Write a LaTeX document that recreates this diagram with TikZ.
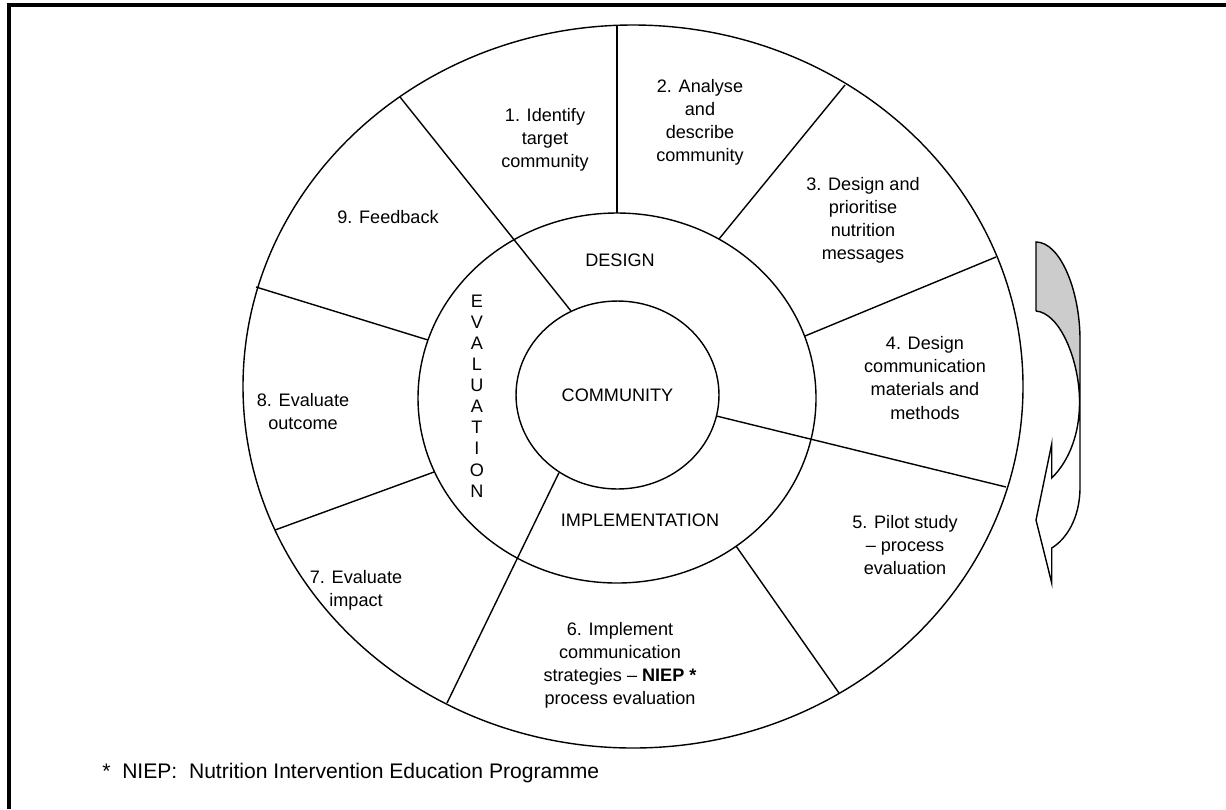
\documentclass[tikz,border=0pt]{standalone}
\usepackage{fontspec}
\setmainfont{Liberation Sans}
\usetikzlibrary{calc, arrows.meta, positioning, shapes.geometric}

\begin{document}
\begin{tikzpicture}[
    x=0.02cm, y=-0.02cm,
    ring/.style={draw, line width=0.8pt},
    label/.style={align=center, inner sep=0pt, font=\fontsize{10.3}{13.1}\selectfont},
    core/.style={ellipse, draw, line width=0.8pt, inner sep=0pt,
        minimum width=4.06cm, minimum height=3.76cm, font=\fontsize{10.3}{13.1}\selectfont}
]
    \useasboundingbox (0,0) rectangle (1226,809);

    % Frame ------------------------------------------------------

    \draw[line width=2.3pt] (7,5) -- (1226,5);
    \draw[line width=2.3pt] (9,3) -- (9,809);

    % Rings ------------------------------------------------------

    \draw[ring] (633,386.5) ellipse [x radius=390, y radius=361.5];
    \draw[ring] (617,398) ellipse [x radius=199, y radius=185];
    \node[core] (community) at (617.5,395) {COMMUNITY};

    % Dividers ---------------------------------------------------

    \coordinate (o12) at (617,25);
    \coordinate (m12) at (617,213);
    \coordinate (o23) at (845,85);
    \coordinate (m23) at (719,239);
    \coordinate (o34) at (996,257);
    \coordinate (m34) at (805,336);
    \coordinate (o45) at (1006,487);
    \coordinate (o56) at (839,693);
    \coordinate (m56) at (736,546);
    \coordinate (o67) at (447,703);
    \coordinate (o78) at (275,530);
    \coordinate (m78) at (434,472);
    \coordinate (o89) at (256,287);
    \coordinate (m89) at (428,340);
    \coordinate (o91) at (400,97);

    \draw[ring] (o12) -- (m12);
    \draw[ring] (o23) -- (m23);
    \draw[ring] (o34) -- (m34);
    \draw[ring] (community.-12.7) -- (o45);
    \draw[ring] (o56) -- (m56);
    \draw[ring] (community.233.6) -- (o67);
    \draw[ring] (o78) -- (m78);
    \draw[ring] (o89) -- (m89);
    \draw[ring] (community.119.2) -- (o91);

    % Labels -----------------------------------------------------

    \node[label] (s1) at (545,140) {1. Identify\\target\\community};
    \node[label] (s2) at (700,122) {2. Analyse\\and\\describe\\community};
    \node[label] (s3) at (863,220) {3. Design and\\prioritise\\nutrition\\messages};
    \node[label] (s4) at (925,378) {4. Design\\communication\\materials and\\methods};
    \node[label] (s5) at (905,545) {5. Pilot study\\– process\\evaluation};
    \node[label] (s6) at (620,665) {6. Implement\\communication\\strategies – \textbf{NIEP *}\\process evaluation};
    \node[label] (s7) at (356,590) {7. Evaluate\\impact};
    \node[label] (s8) at (303,412) {8. Evaluate\\outcome};
    \node[label] (s9) at (388,217) {9. Feedback};

    \node[label] (design) at (620,260) {DESIGN};
    \node[label] (impl) at (640,520) {IMPLEMENTATION};
    \node[label, font=\fontsize{10.3}{12}\selectfont] (eval) at (477,396)
        {E\\V\\A\\L\\U\\A\\T\\I\\O\\N};

    \node[label, anchor=west, font=\fontsize{12}{14}\selectfont] (note) at (102,773)
        {*\ \ NIEP:\ \ Nutrition Intervention Education Programme};

    % Cycle arrow ------------------------------------------------

    \fill[gray!40] (1036,242) .. controls (1060,242) and (1080,290) .. (1080,340)
        -- (1080,400) .. controls (1079,360) and (1060,313) .. (1036,311) -- cycle;
    \draw[ring] (1036,311) -- (1036,242) .. controls (1060,242) and (1080,290) .. (1080,340)
        -- (1080,487) .. controls (1080,520) and (1065,540) .. (1051.7,548)
        -- (1051.7,583) -- (1036,520) -- (1051.7,444) -- (1051.7,478)
        .. controls (1065,465) and (1080,440) .. (1079.5,400)
        .. controls (1079,360) and (1060,313) .. (1036,311);

\end{tikzpicture}
\end{document}
